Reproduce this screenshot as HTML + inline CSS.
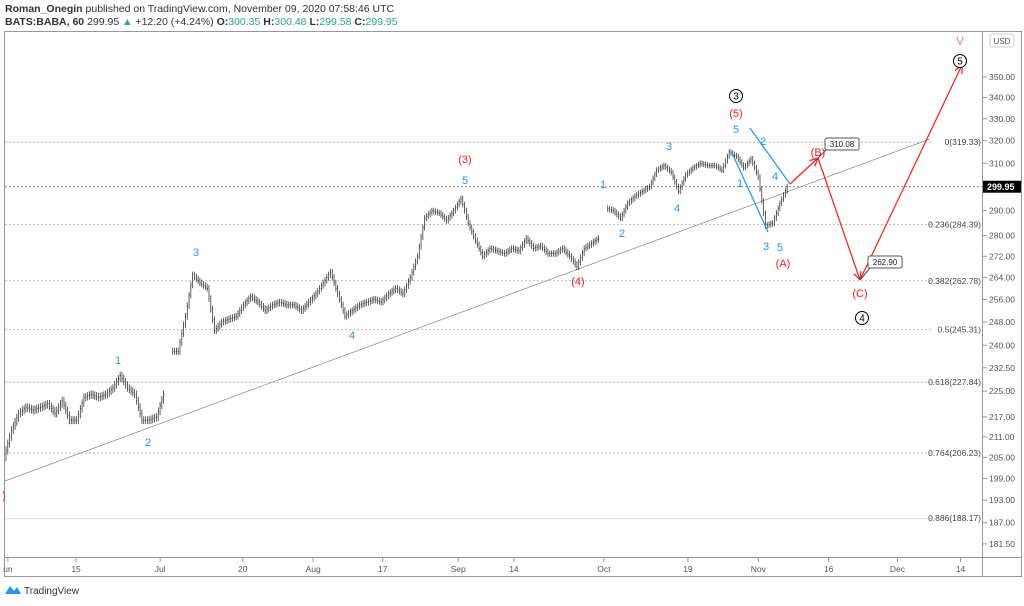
<!DOCTYPE html>
<html><head><meta charset="utf-8"><style>
body{margin:0;background:#fff;font-family:"Liberation Sans",sans-serif}
svg text{font-family:"Liberation Sans",sans-serif}
</style></head><body>
<svg id="c" width="1024" height="601" viewBox="0 0 1024 601">
<text x="5" y="12" font-size="10.5" fill="#333"><tspan font-weight="bold">Roman_Onegin</tspan> published on TradingView.com, November 09, 2020 07:58:46 UTC</text>
<text x="5" y="25" font-size="10.5" fill="#333"><tspan font-weight="bold">BATS:BABA, 60</tspan> 299.95 <tspan fill="#26a69a">▲</tspan> +12.20 (+4.24%) <tspan font-weight="bold">O:</tspan><tspan fill="#26a69a">300.35</tspan> <tspan font-weight="bold">H:</tspan><tspan fill="#26a69a">300.48</tspan> <tspan font-weight="bold">L:</tspan><tspan fill="#26a69a">299.58</tspan> <tspan font-weight="bold">C:</tspan><tspan fill="#26a69a">299.95</tspan></text>
<rect x="4.5" y="31.5" width="1017" height="545" fill="none" stroke="#9598a1"/>
<line x1="982.5" y1="31" x2="982.5" y2="576" stroke="#9598a1"/>
<line x1="4" y1="557.5" x2="1022" y2="557.5" stroke="#9598a1"/>
<g id="fib"></g><g id="yax"></g><g id="xax"></g><g id="bars"></g><g id="ov"></g>
<rect x="990" y="34" width="24" height="13" rx="2" fill="#fff" stroke="#ccc"/>
<text x="1002" y="44" font-size="8" text-anchor="middle" fill="#555">USD</text>
<text x="24" y="594" font-size="10" fill="#333">TradingView</text>
<path d="M5 594 L10 586 L14 591 L17 587 L21 594 Z" fill="#2196f3"/>
</svg>
<script>
const closes=[205,213,218,220,219,220,221,218,222,216,216,223,224,223,224,226,230,226,224,216,216,217,224,238,238,250,265,262,260,245,248,249,250,254,257,255,252,254,255,254,254,252,255,258,262,266,258,250,252,254,255,256,255,258,260,258,264,272,287,290,289,286,290,295,285,278,272,275,274,273,275,274,279,275,276,273,273,275,272,268,275,277,279,291,290,287,293,296,298,300,307,309,306,298,305,308,310,309,309,307,315,313,308,312,304,284,285,293,300];
const yTicks=[181.5,187,193,199,205,211,217,225,232.5,240,248,256,264,272,280,290,310,320,330,340,350];
const fibLevels=[319.33,284.39,262.78,245.31,227.84,206.23,188.17];
const fibRatios=["0","0.236","0.382","0.5","0.618","0.764","0.886"];
const xLabels=["un","15","Jul","20","Aug","17","Sep","14","Oct","19","Nov","16","Dec","14"];
const xLabelDays=[0.4,9.8,21.4,32.8,42.5,52.1,62.5,70.2,82.6,94.2,103.9,113.6,123.1,131.8];
const lastPrice=299.95;
const NS="http://www.w3.org/2000/svg";
function Y(p){return 77+(Math.log(350)-Math.log(p))*711;}
function X(d){return 5+d*7.25;}
function mk(par,tag,a,txt){const e=document.createElementNS(NS,tag);for(const k in a)e.setAttribute(k,a[k]);if(txt!==undefined)e.textContent=txt;document.getElementById(par).appendChild(e);return e;}
yTicks.forEach(p=>{const y=Y(p);
 let t=mk('yax','line',{x1:983,x2:987,y1:y,y2:y,stroke:'#999'});
 
 
 let l=mk('yax','text',{x:989,y:y+3,'font-size':8.5,fill:'#555'},p.toFixed(2));
 
 });
xLabels.forEach((s,i)=>{const x=X(xLabelDays[i]);
 let t=mk('xax','line',{x1:x,x2:x,y1:558,y2:562,stroke:'#999'});
 
 
 let l=mk('xax','text',{x:x,y:572,'font-size':8.5,fill:'#555','text-anchor':'middle'},s);
 
 });
fibLevels.forEach((p,i)=>{const y=Y(p);const lab=fibRatios[i]+'('+p.toFixed(2)+')';
 let ln=mk('fib','line',{x1:5,x2:932,y1:y,y2:y,stroke:'#999','stroke-dasharray':'2,2','stroke-width':0.6});
 
 
 let t=mk('fib','text',{x:981,y:y+3,'font-size':8.5,fill:'#444','text-anchor':'end'},lab);
 
 });
const ly=Y(lastPrice);
let pl=mk('fib','line',{x1:5,x2:982,y1:ly,y2:ly,stroke:'#666','stroke-dasharray':'2,2','stroke-width':0.7});


let pb=mk('yax','rect',{x:983,y:ly-6,width:38,height:12,fill:'#000'});


let pt=mk('yax','text',{x:987,y:ly+3.5,'font-size':9,fill:'#fff','font-weight':'bold'},lastPrice.toFixed(2));


let tl=mk('fib','line',{x1:5,y1:481,x2:930,y2:139,stroke:'#888','stroke-width':0.7});


closes.forEach((c,i)=>{if(i==0)return;const pv=closes[i-1];
 if(i==23||i==83)return;
 for(let k=0;k<4;k++){const f0=k/4,f1=(k+1)/4;const a=pv+(c-pv)*f0,b=pv+(c-pv)*f1;const hi=Math.max(a,b)+1.2,lo=Math.min(a,b)-1.2;const x=X(i-1)+k*1.8+1;
  let b1=mk('bars','line',{x1:x,x2:x,y1:Y(hi),y2:Y(lo),stroke:'#222','stroke-width':0.7});
  
  
  let b2=mk('bars','line',{x1:x,x2:x+0.8,y1:Y(b),y2:Y(b),stroke:'#222','stroke-width':0.7});
  
  }});
const red='#f21f1f',blue='#2196f3';
function line(x1,y1,x2,y2,col,name){let l=mk('ov','line',{x1,y1,x2,y2,stroke:col,'stroke-width':1.2});}
function arrow(x1,y1,x2,y2){line(x1,y1,x2,y2,red,'projection-arrow');const a=Math.atan2(y2-y1,x2-x1);[0.45,-0.45].forEach(d=>{line(x2,y2,x2-9*Math.cos(a+d),y2-9*Math.sin(a+d),red,'arrow-head');});}
arrow(790,184,818,158);arrow(818,158,860,280);arrow(860,280,962,65);
line(750,128,790,184,blue,'channel-line');line(733,155,768,232,blue,'channel-line');
function box(x,y,t){let r=mk('ov','rect',{x,y,width:34,height:12,rx:2,fill:'#fff',stroke:'#555'});
 let tx=mk('ov','text',{x:x+17,y:y+9,'font-size':8,'text-anchor':'middle',fill:'#222'},t);}
line(818,158,826,150,'#555','callout-leader');line(860,280,870,268,'#555','callout-leader');
box(825,138,'310.08');box(868,256,'262.90');
const bl=[["1",118,364],["2",148,446],["3",196,256],["4",352,339],["5",465,184],["1",603,188],["2",622,237],["3",669,150],["4",677,212],["5",736,133],["2",763,145],["1",740,187],["4",775,180],["3",766,250],["5",780,251]];
bl.forEach(([t,x,y])=>{let e=mk('ov','text',{x,y,'font-size':11,fill:blue,'text-anchor':'middle'},t);});
const rl=[["(3)",465,163],["(4)",578,285],["(5)",736,117],["(A)",783,267],["(B)",818,156],["(C)",860,297],[")",4,499]];
rl.forEach(([t,x,y])=>{let e=mk('ov','text',{x,y,'font-size':11,fill:red,'text-anchor':'middle'},t);});
let v=mk('ov','text',{x:960,y:45,'font-size':12,fill:'#f08080','text-anchor':'middle'},'V');
[["3",736,96],["4",862,318],["5",960,61]].forEach(([t,x,y])=>{let c=mk('ov','circle',{cx:x,cy:y,r:6.5,fill:'#fff',stroke:'#000','stroke-width':1});
 let e=mk('ov','text',{x,y:y+3.5,'font-size':10,fill:'#000','text-anchor':'middle'},t);});
</script>
</body></html>
